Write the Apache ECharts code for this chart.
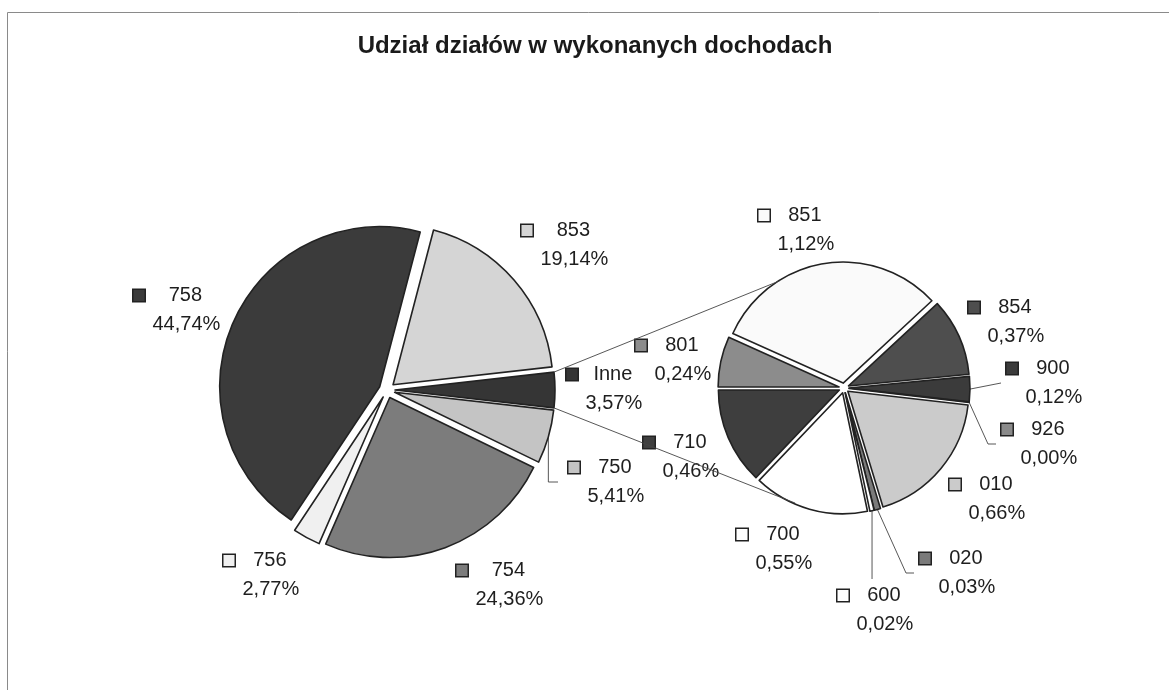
<!DOCTYPE html>
<html><head><meta charset="utf-8">
<script src="https://cdn.jsdelivr.net/npm/echarts@6/dist/echarts.min.js"></script>
<style>html,body{margin:0;padding:0;background:#fff}#c{width:1169px;height:690px}</style>
</head><body><div id="c"></div>
<script>
// ---- data ----
const chartTitle = 'Udział działów w wykonanych dochodach';
const mainNames  = ['750', '754', '756', '758', '853', 'Inne'];
const mainValues = [5.41, 24.36, 2.77, 44.74, 19.14, 3.57];
const subNames   = ['851', '854', '900', '926', '010', '020', '600', '700', '710', '801'];
const subValues  = [1.12, 0.37, 0.12, 0.00, 0.66, 0.03, 0.02, 0.55, 0.46, 0.24];

// ---- styles ----
const mainColors = ['#c4c4c4', '#7c7c7c', '#f0f0f0', '#3b3b3b', '#d5d5d5', '#353535'];
const subColors  = ['#fafafa', '#4e4e4e', '#3b3b3b', '#8a8a8a', '#cbcbcb', '#7a7a7a', '#ffffff', '#ffffff', '#3e3e3e', '#8c8c8c'];
// leader line shape per label: straight, elbow (slanted then short level run), down, downRight
const mainLineKind = {'750': 'downRight'};
const subLineKind  = {'900': 'straight', '926': 'elbow', '020': 'elbow', '600': 'down'};
const MAIN_OFFSET = 8, SUB_OFFSET = 5;
// label anchor: [left of legend key, vertical middle of the two-line block]
const mainLabelAt = {'758': [132, 310], '853': [520, 245], 'Inne': [565, 389], '750': [567, 482], '754': [455, 585], '756': [222, 575]};
const subLabelAt  = {'851': [757, 230], '854': [967, 322], '900': [1005, 383], '926': [1000, 444], '010': [948, 499],
                     '020': [918, 573], '600': [836, 610], '700': [735, 549], '710': [642, 457], '801': [634, 360]};
const FONT = '"Liberation Sans", Arial, Helvetica, sans-serif';
const TEXT = '#1e1e1e';
const EDGE = '#222';

function pctText(v) { return v.toFixed(2).replace('.', ',') + '%'; }

function makeRich(colors) {
  const rich = {
    g: {width: 6, height: 13, align: 'left'},
    s: {width: 19, height: 13, align: 'left'},
    n: {fontSize: 20, lineHeight: 29, color: TEXT, fontFamily: FONT, align: 'center'},
    p: {fontSize: 20, lineHeight: 29, color: TEXT, fontFamily: FONT, align: 'center'}
  };
  colors.forEach((c, i) => {
    rich['b' + i] = {width: 11, height: 11, backgroundColor: c, borderColor: EDGE, borderWidth: 1.5, align: 'left'};
  });
  return rich;
}

function makeData(names, values, colors, lineKind) {
  return names.map((n, i) => ({
    name: n, value: values[i], selected: true,
    itemStyle: {color: colors[i]},
    labelLine: {show: !!lineKind[n]}
  }));
}

function labelFormatter(p) {
  return '{b' + p.dataIndex + '|}{g|}{n|' + p.name + '}\n{s|}{p|' + pctText(p.value) + '}';
}

let chart;
function layoutFor(names, posMap, offset, lineKind) {
  return function (params) {
    const name = names[params.dataIndex];
    const pos = posMap[name];
    const r = params.labelRect;
    if (!pos || !r) return {};
    const lay = chart.getModel().getSeriesByIndex(params.seriesIndex).getData().getItemLayout(params.dataIndex);
    const mid = (lay.startAngle + lay.endAngle) / 2;
    // the label travels with its exploded slice, so take the slice offset back out
    const ox = offset * Math.cos(mid), oy = offset * Math.sin(mid);
    const out = {dx: pos[0] - ox - r.x, dy: pos[1] - oy - (r.y + r.height / 2)};
    const kind = lineKind[name];
    if (kind) {
      // leader line, in the slice's own (unexploded) frame
      const x0 = lay.cx + lay.r * Math.cos(mid), y0 = lay.cy + lay.r * Math.sin(mid);
      const lx = pos[0] - ox, ly = pos[1] - oy;
      let pts;
      if (kind === 'straight') pts = [[x0, y0], [lx - 4, ly]];
      else if (kind === 'elbow') pts = [[x0, y0], [lx - 12, ly], [lx - 4, ly]];
      else if (kind === 'down') pts = [[x0, y0], [x0, ly - 31]];
      else pts = [[x0, y0], [x0, ly], [lx - 9, ly]];
      out.labelLinePoints = pts;
    }
    return out;
  };
}

chart = echarts.init(document.getElementById('c'), null, {renderer: 'canvas'});

const common = {
  type: 'pie',
  selectedMode: 'multiple',
  avoidLabelOverlap: false,
  minShowLabelAngle: 0,
  animation: false,
  silent: true,
  itemStyle: {borderColor: EDGE, borderWidth: 1.6},
  select: {itemStyle: {borderColor: EDGE, borderWidth: 1.6}},
  emphasis: {disabled: true},
  labelLine: {show: false, length: 10, length2: 10, lineStyle: {color: '#444', width: 0.9}},
  label: {show: true, position: 'outside', formatter: labelFormatter}
};

chart.setOption({
  backgroundColor: '#ffffff',
  animation: false,
  graphic: [
    {type: 'rect', z: 0, shape: {x: 7.5, y: 12.5, width: 1200, height: 700},
     style: {fill: 'none', stroke: '#8a8a8a', lineWidth: 1}},
    {type: 'text', z: 10, x: 595, y: 46,
     style: {text: chartTitle, fill: '#1a1a1a', font: 'bold 24px ' + FONT, textAlign: 'center', textVerticalAlign: 'middle'}}
  ],
  series: [
    Object.assign({}, common, {
      name: 'main', center: [387, 390], radius: 160, startAngle: -6.43, selectedOffset: MAIN_OFFSET,
      label: Object.assign({}, common.label, {rich: makeRich(mainColors)}),
      labelLayout: layoutFor(mainNames, mainLabelAt, MAIN_OFFSET, mainLineKind),
      data: makeData(mainNames, mainValues, mainColors, mainLineKind)
    }),
    Object.assign({}, common, {
      name: 'sub', center: [844, 388], radius: 121, startAngle: 155.8, selectedOffset: SUB_OFFSET,
      label: Object.assign({}, common.label, {rich: makeRich(subColors)}),
      labelLayout: layoutFor(subNames, subLabelAt, SUB_OFFSET, subLineKind),
      data: makeData(subNames, subValues, subColors, subLineKind)
    })
  ]
});

// connector lines between the "Inne" slice and the secondary pie, taken from the library's layout
(function addConnectors() {
  const model = chart.getModel();
  const mainData = model.getSeriesByIndex(0).getData();
  const subData = model.getSeriesByIndex(1).getData();
  const idx = mainNames.indexOf('Inne');
  const L = mainData.getItemLayout(idx);
  const mid = (L.startAngle + L.endAngle) / 2;
  const ox = MAIN_OFFSET * Math.cos(mid), oy = MAIN_OFFSET * Math.sin(mid);
  const pA = [L.cx + ox + L.r * Math.cos(L.startAngle), L.cy + oy + L.r * Math.sin(L.startAngle)];
  const pB = [L.cx + ox + L.r * Math.cos(L.endAngle), L.cy + oy + L.r * Math.sin(L.endAngle)];
  const upper = pA[1] < pB[1] ? pA : pB;
  const lower = pA[1] < pB[1] ? pB : pA;
  const S = subData.getItemLayout(0);
  const rr = S.r + 4;
  const aUp = -121 * Math.PI / 180, aLow = 113 * Math.PI / 180;
  const qUp = [S.cx + rr * Math.cos(aUp), S.cy + rr * Math.sin(aUp)];
  const qLow = [S.cx + rr * Math.cos(aLow), S.cy + rr * Math.sin(aLow)];
  const zr = chart.getZr();
  [[upper, qUp], [lower, qLow]].forEach(function (seg) {
    zr.add(new echarts.graphic.Line({
      z: 100,
      shape: {x1: seg[0][0], y1: seg[0][1], x2: seg[1][0], y2: seg[1][1]},
      style: {stroke: '#444', lineWidth: 0.9}
    }));
  });
})();
</script>
</body></html>
